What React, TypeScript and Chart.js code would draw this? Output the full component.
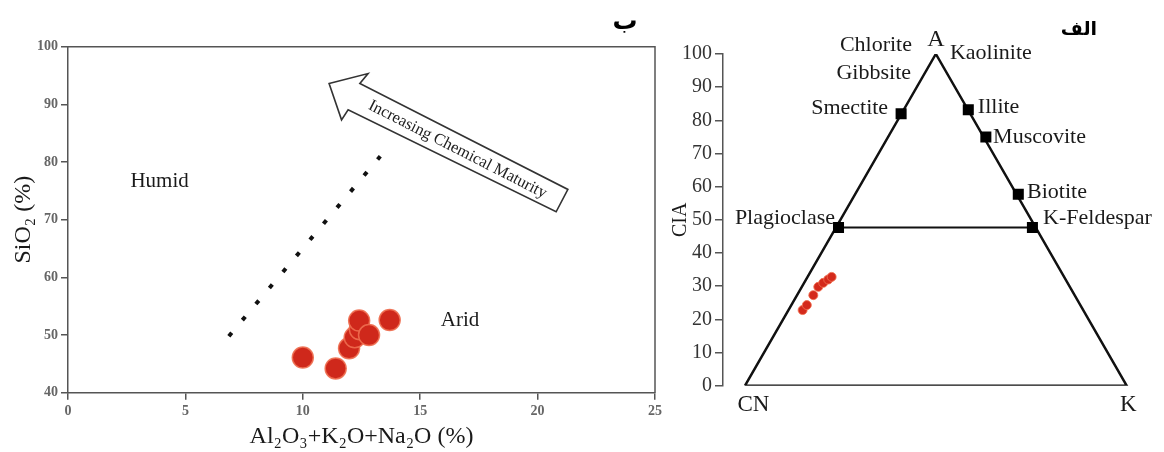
import React, { useEffect, useRef } from "react";
import { Chart, registerables } from "chart.js";

Chart.register(...registerables);

const SERIF = "'Liberation Serif', 'Times New Roman', 'DejaVu Serif', serif";
const ARABIC = "'DejaVu Sans', 'Noto Sans', sans-serif";

// ---------- Left panel (ب): SiO2 vs Al2O3+K2O+Na2O ----------
const aridAlkali = [10.0, 11.4, 11.97, 12.21, 12.43, 12.4, 12.82, 13.7];
const aridSilica = [46.1, 44.2, 47.7, 49.6, 51.0, 52.5, 50.0, 52.6];
const boundaryX = [6.85, 13.3];
const boundaryY = [49.8, 81.0];
const leftXRange = [0, 25];
const leftYRange = [40, 100];
const leftXStep = 5;
const leftYStep = 10;
const arrowX = [11.12, 12.78, 12.43, 21.29, 20.79, 11.93, 11.65];
const arrowY = [93.62, 95.35, 93.62, 75.25, 71.37, 89.04, 87.31];
const arrowText = "Increasing Chemical Maturity";
const climateLabels = ["Humid", "Arid"];
const climateX = [3.9, 16.7];
const climateY = [76.7, 52.6];
const leftXTitle = "Al₂O₃+K₂O+Na₂O (%)";
const leftYTitle = "SiO₂ (%)";
const leftPanelLabel = "ب";

// ---------- Right panel (الف): A-CN-K ternary with CIA ----------
const triangleX = [0, 50, 100, 0];
const triangleY = [0, 100, 0, 0];
const feldsparLineX = [24.5, 75.3];
const feldsparLineY = [47.7, 47.7];
const mineralNames = ["Smectite", "Illite", "Muscovite", "Biotite", "Plagioclase", "K-Feldespar"];
const mineralX = [40.9, 58.5, 63.1, 71.6, 24.5, 75.3];
const mineralCIA = [82.0, 83.2, 75.0, 57.7, 47.7, 47.7];
const sampleX = [15.1, 16.2, 17.9, 19.2, 20.5, 21.8, 22.7];
const sampleCIA = [22.8, 24.3, 27.3, 29.8, 31.0, 32.0, 32.8];
const textLabels = ["Chlorite", "Kaolinite", "Gibbsite", "Smectite", "Illite", "Muscovite", "Biotite", "K-Feldespar", "Plagioclase", "A", "CN", "K"];
const textX = [43.75, 53.7, 43.5, 37.5, 61.0, 65.0, 73.9, 78.1, 23.6, 50.0, 2.2, 100.4];
const textY = [102.6, 100.2, 94.2, 83.6, 83.9, 74.9, 58.3, 50.5, 50.5, 104.2, -5.8, -5.8];
const textAlign = ["right", "left", "right", "right", "left", "left", "left", "left", "right", "center", "center", "center"];
const textSize = [22, 22, 22, 22, 22, 22, 22, 22, 22, 24, 23, 23];
const rightYRange = [0, 100];
const rightYStep = 10;
const rightXRange = [-5.76, 104.53];
const rightYTitle = "CIA";
const rightPanelLabel = "الف";

function px(chart: any, x: number, y: number) {
  return { x: chart.scales.x.getPixelForValue(x), y: chart.scales.y.getPixelForValue(y) };
}

function noOverflow(s: any) {
  s.paddingLeft = 0;
  s.paddingRight = 0;
  s.paddingTop = 0;
  s.paddingBottom = 0;
}

const leftDecor = {
  id: "leftDecor",
  afterDraw(chart: any) {
    const ctx = chart.ctx;
    const a = chart.chartArea;
    ctx.save();
    // frame top & right
    ctx.strokeStyle = "#555";
    ctx.lineWidth = 1.5;
    ctx.beginPath();
    ctx.moveTo(a.left, a.top);
    ctx.lineTo(a.right, a.top);
    ctx.lineTo(a.right, a.bottom);
    ctx.stroke();
    // hollow arrow
    ctx.beginPath();
    arrowX.forEach((vx, i) => {
      const p = px(chart, vx, arrowY[i]);
      if (i === 0) ctx.moveTo(p.x, p.y);
      else ctx.lineTo(p.x, p.y);
    });
    ctx.closePath();
    ctx.fillStyle = "#fff";
    ctx.fill();
    ctx.strokeStyle = "#333";
    ctx.lineWidth = 1.6;
    ctx.lineJoin = "miter";
    ctx.stroke();
    // arrow text
    const s1 = px(chart, arrowX[2], arrowY[2]);
    const s2 = px(chart, arrowX[3], arrowY[3]);
    const angle = Math.atan2(s2.y - s1.y, s2.x - s1.x);
    let cx = 0, cy = 0;
    [2, 3, 4, 5].forEach((i) => {
      const p = px(chart, arrowX[i], arrowY[i]);
      cx += p.x / 4;
      cy += p.y / 4;
    });
    ctx.translate(cx, cy);
    ctx.rotate(angle);
    ctx.fillStyle = "#222";
    ctx.font = `16.5px ${SERIF}`;
    ctx.textAlign = "center";
    ctx.textBaseline = "middle";
    ctx.fillText(arrowText, 0, 1);
    ctx.setTransform(1, 0, 0, 1, 0, 0);
    // climate labels
    ctx.font = `21px ${SERIF}`;
    ctx.fillStyle = "#1a1a1a";
    climateLabels.forEach((t, i) => {
      const p = px(chart, climateX[i], climateY[i]);
      ctx.fillText(t, p.x, p.y);
    });
    // panel label
    ctx.font = `bold 25px ${ARABIC}`;
    ctx.fillStyle = "#000";
    ctx.textBaseline = "alphabetic";
    ctx.fillText(leftPanelLabel, a.right - 30, 29);
    ctx.restore();
  },
};

const rightDecor = {
  id: "rightDecor",
  afterDraw(chart: any) {
    const ctx = chart.ctx;
    const a = chart.chartArea;
    ctx.save();
    ctx.fillStyle = "#1a1a1a";
    ctx.textBaseline = "middle";
    textLabels.forEach((t, i) => {
      const p = px(chart, textX[i], textY[i]);
      ctx.font = `${textSize[i]}px ${SERIF}`;
      ctx.textAlign = textAlign[i] as CanvasTextAlign;
      ctx.fillText(t, p.x, p.y);
    });
    ctx.font = `bold 19px ${ARABIC}`;
    ctx.fillStyle = "#000";
    ctx.textAlign = "center";
    ctx.fillText(rightPanelLabel, a.right - 65, 30);
    ctx.restore();
  },
};

function LeftChart() {
  const ref = useRef<HTMLCanvasElement>(null);
  useEffect(() => {
    const chart = new Chart(ref.current as HTMLCanvasElement, {
      type: "scatter",
      data: {
        datasets: [
          {
            label: "Samples",
            data: aridAlkali.map((x, i) => ({ x, y: aridSilica[i] })),
            backgroundColor: "#cf281b",
            borderColor: "rgba(238,110,80,0.9)",
            borderWidth: 1.5,
            pointRadius: 10.5,
          },
          {
            label: "Boundary",
            data: boundaryX.map((x, i) => ({ x, y: boundaryY[i] })),
            showLine: true,
            borderColor: "#111",
            borderWidth: 4,
            borderDash: [4.5, 16.5],
            pointRadius: 0,
          },
        ],
      },
      options: {
        responsive: false,
        animation: false,
        devicePixelRatio: 1,
        layout: { autoPadding: false, padding: { top: 46.7, right: 7, left: 0, bottom: 0 } },
        plugins: { legend: { display: false }, tooltip: { enabled: false } },
        scales: {
          x: {
            type: "linear",
            min: leftXRange[0],
            max: leftXRange[1],
            afterFit: (s: any) => { s.height = 59.3; noOverflow(s); },
            ticks: { stepSize: leftXStep, color: "#666", padding: 3, font: { family: SERIF, size: 14, weight: "bold" } },
            grid: { drawOnChartArea: false, drawTicks: true, tickLength: 7, color: "#555", lineWidth: 1.5 },
            border: { display: true, color: "#555", width: 1.5 },
            title: { display: true, text: leftXTitle, color: "#1a1a1a", padding: { top: 0, bottom: 1 }, font: { family: SERIF, size: 24 } },
          },
          y: {
            type: "linear",
            min: leftYRange[0],
            max: leftYRange[1],
            afterFit: (s: any) => { s.width = 68; noOverflow(s); },
            ticks: { stepSize: leftYStep, color: "#666", padding: 3, font: { family: SERIF, size: 14, weight: "bold" } },
            grid: { drawOnChartArea: false, drawTicks: true, tickLength: 7, color: "#555", lineWidth: 1.5 },
            border: { display: true, color: "#555", width: 1.5 },
            title: { display: true, text: leftYTitle, color: "#1a1a1a", padding: { top: 9, bottom: 0 }, font: { family: SERIF, size: 24 } },
          },
        },
      },
      plugins: [leftDecor],
    } as any);
    return () => chart.destroy();
  }, []);
  return <canvas ref={ref} width={662} height={452} style={{ position: "absolute", left: 0, top: 0, width: 662, height: 452 }} />;
}

function RightChart() {
  const ref = useRef<HTMLCanvasElement>(null);
  useEffect(() => {
    const chart = new Chart(ref.current as HTMLCanvasElement, {
      type: "scatter",
      data: {
        datasets: [
          {
            label: "Samples",
            data: sampleX.map((x, i) => ({ x, y: sampleCIA[i] })),
            backgroundColor: "#d42a1c",
            borderColor: "rgba(240,110,80,0.85)",
            borderWidth: 1,
            pointRadius: 4.5,
          },
          {
            label: "Minerals",
            data: mineralX.map((x, i) => ({ x, y: mineralCIA[i], name: mineralNames[i] })),
            backgroundColor: "#000",
            borderWidth: 0,
            pointStyle: "rect",
            pointRadius: 7.8,
          },
          {
            label: "Feldspar join",
            data: feldsparLineX.map((x, i) => ({ x, y: feldsparLineY[i] })),
            showLine: true,
            borderColor: "#111",
            borderWidth: 2.2,
            pointRadius: 0,
          },
          {
            label: "Triangle",
            data: triangleX.map((x, i) => ({ x, y: triangleY[i] })),
            showLine: true,
            borderColor: "#111",
            borderWidth: 2.5,
            pointRadius: 0,
          },
        ],
      },
      options: {
        responsive: false,
        animation: false,
        devicePixelRatio: 1,
        layout: { autoPadding: false, padding: { top: 54, right: 20, left: 0, bottom: 66.3 } },
        plugins: { legend: { display: false }, tooltip: { enabled: false } },
        scales: {
          x: { type: "linear", display: false, min: rightXRange[0], max: rightXRange[1] },
          y: {
            type: "linear",
            min: rightYRange[0],
            max: rightYRange[1],
            afterFit: (s: any) => { s.width = 61; noOverflow(s); },
            ticks: { stepSize: rightYStep, color: "#333", padding: 3, font: { family: SERIF, size: 20 } },
            grid: { drawOnChartArea: false, drawTicks: true, tickLength: 8, color: "#555", lineWidth: 1.5 },
            border: { display: true, color: "#555", width: 1.5 },
            title: { display: true, text: rightYTitle, color: "#1a1a1a", padding: { top: 7, bottom: 0 }, font: { family: SERIF, size: 20 } },
          },
        },
      },
      plugins: [rightDecor],
    } as any);
    return () => chart.destroy();
  }, []);
  return <canvas ref={ref} width={502} height={452} style={{ position: "absolute", left: 662, top: 0, width: 502, height: 452 }} />;
}

export default function App() {
  return (
    <div style={{ position: "fixed", left: 0, top: 0, width: 1164, height: 452, background: "#fff", overflow: "hidden" }}>
      <LeftChart />
      <RightChart />
    </div>
  );
}
